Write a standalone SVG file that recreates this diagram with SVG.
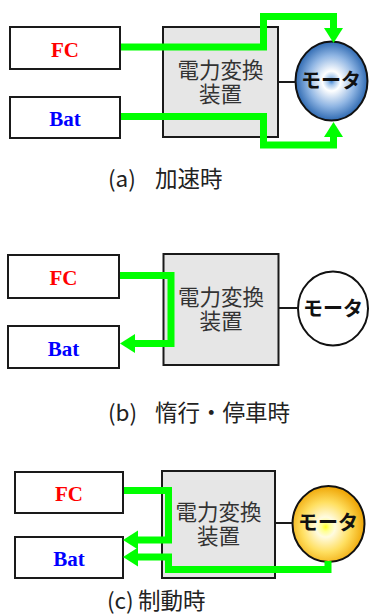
<svg xmlns="http://www.w3.org/2000/svg" width="369" height="615" viewBox="0 0 369 615">
<style>
.box{fill:#fff;stroke:#1a1a1a;stroke-width:2}
.conv{fill:#e6e6e6;stroke:#1a1a1a;stroke-width:2}
.motor{stroke:#111;stroke-width:2}
.lbl{font-family:"Liberation Serif","Times New Roman",serif;font-weight:bold;font-size:21px;text-anchor:middle}
.fc{fill:#ff0000}
.bat{fill:#0000ff}
.ct{font-family:"Noto Sans CJK JP","Noto Sans",sans-serif;font-size:21.5px;fill:#333;text-anchor:middle}
.mt{font-family:"Noto Sans CJK JP","Noto Sans",sans-serif;font-size:20px;font-weight:bold;fill:#111;text-anchor:middle}
.cap{font-family:"Noto Sans CJK JP","Noto Sans",sans-serif;font-size:22.5px;fill:#222}
.flow{fill:none;stroke:#00ff00;stroke-width:7;stroke-linejoin:miter;stroke-linecap:butt;marker-end:url(#ah)}
.wire{stroke:#1a1a1a;stroke-width:2}
</style>
<defs>
<marker id="ah" markerUnits="userSpaceOnUse" markerWidth="16" markerHeight="19" refX="0" refY="9.5" orient="auto" overflow="visible">
<path d="M0,0 L15,9.5 L0,19 Z" fill="#00ff00"/>
</marker>
<radialGradient id="gBlue" cx="0.5" cy="0.5" r="0.5">
<stop offset="0" stop-color="#3f82d2"/>
<stop offset="0.1" stop-color="#a4c6ec"/>
<stop offset="0.25" stop-color="#ffffff"/>
<stop offset="0.65" stop-color="#8fb5e3"/>
<stop offset="1" stop-color="#2f6ab2"/>
</radialGradient>
<radialGradient id="gYel" cx="0.46" cy="0.54" r="0.55">
<stop offset="0" stop-color="#ffff20"/>
<stop offset="0.1" stop-color="#ffff90"/>
<stop offset="0.24" stop-color="#fffbe0"/>
<stop offset="0.6" stop-color="#ffdf60"/>
<stop offset="1" stop-color="#eea200"/>
</radialGradient>
</defs>

<!-- Panel (a) -->
<g id="a-fc"><rect class="box" x="10" y="27" width="110" height="42"/><text class="lbl fc" x="65" y="56.5">FC</text></g>
<g id="a-bat"><rect class="box" x="10" y="97" width="110" height="41"/><text class="lbl bat" x="65" y="126">Bat</text></g>
<g id="a-conv"><rect class="conv" x="163" y="27" width="115" height="110"/><text class="ct"><tspan x="220.5" y="77.5">電力変換</tspan><tspan x="220.5" y="102">装置</tspan></text></g>
<g id="a-motor"><ellipse class="motor" cx="331.5" cy="81" rx="36" ry="39.5" fill="url(#gBlue)"/><text class="mt" x="331" y="88">モータ</text></g>
<g id="a-caption"><text class="cap" x="108" y="187">(a)<tspan x="155">加速時</tspan></text></g>

<!-- Panel (b) -->
<g id="b-fc"><rect class="box" x="8" y="255" width="111" height="43"/><text class="lbl fc" x="63.5" y="284.5">FC</text></g>
<g id="b-bat"><rect class="box" x="8" y="326" width="111" height="42"/><text class="lbl bat" x="63.5" y="355.5">Bat</text></g>
<g id="b-conv"><rect class="conv" x="163.5" y="254" width="115" height="111"/><text class="ct"><tspan x="221" y="304.5">電力変換</tspan><tspan x="221" y="329">装置</tspan></text></g>
<g id="b-motor"><ellipse class="motor" cx="333" cy="308.5" rx="35" ry="37" fill="#fff"/><text class="mt" x="333" y="315.5">モータ</text></g>
<g id="b-caption"><text class="cap" x="108" y="421">(b)<tspan x="155">惰行・停車時</tspan></text></g>

<!-- Panel (c) -->
<g id="c-fc"><rect class="box" x="15" y="472" width="108" height="41"/><text class="lbl fc" x="69" y="500.5">FC</text></g>
<g id="c-bat"><rect class="box" x="15" y="537" width="108" height="41"/><text class="lbl bat" x="69" y="566">Bat</text></g>
<g id="c-conv"><rect class="conv" x="162" y="471" width="113" height="107"/><text class="ct"><tspan x="218.5" y="519.5">電力変換</tspan><tspan x="218.5" y="544">装置</tspan></text></g>
<g id="c-motor"><ellipse class="motor" cx="328.5" cy="524" rx="36" ry="38" fill="url(#gYel)"/><text class="mt" x="328" y="530">モータ</text></g>
<g id="c-caption"><text class="cap" x="107" y="608.5">(c)<tspan x="138">制動時</tspan></text></g>

<!-- Connectors -->
<g id="connectors">
<line class="wire" x1="278" y1="82" x2="296" y2="82"/>
<line class="wire" x1="278.5" y1="308" x2="298" y2="308"/>
<line class="wire" x1="275" y1="523" x2="293" y2="523"/>
<path class="flow" d="M121,47 H263.5 V16.5 H333.5 V28"/>
<path class="flow" d="M121,116.5 H263.5 V145 H333.5 V137"/>
<path class="flow" d="M120,275.5 H171 V343.5 H135"/>
<path class="flow" d="M124,490.5 H168.5 V540 H138"/>
<path class="flow" d="M328,561 V569.5 H168.5 V557 H138"/>
</g>
</svg>
